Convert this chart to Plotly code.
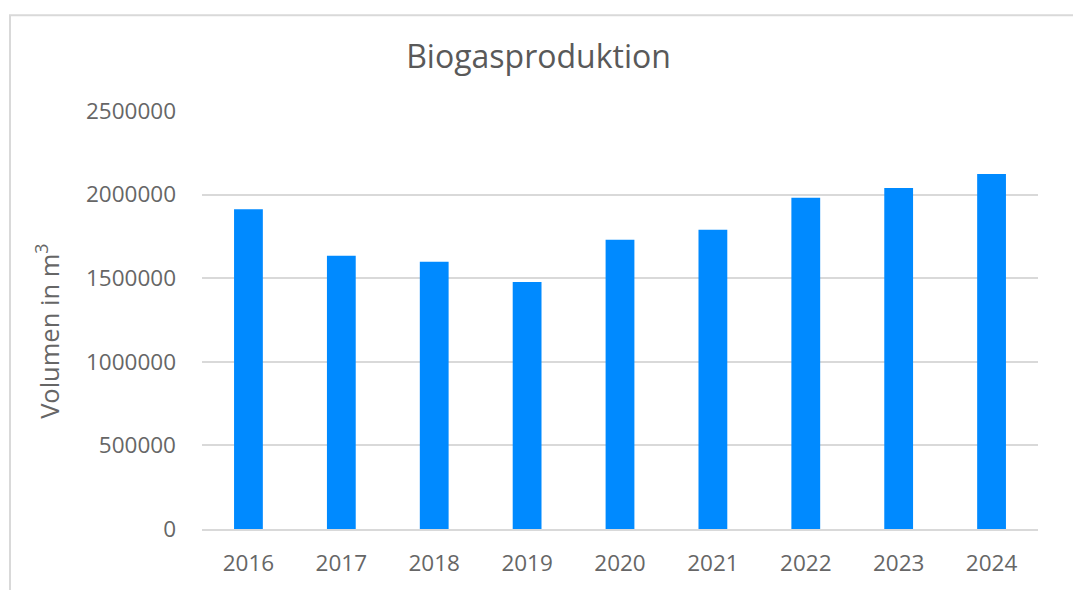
import plotly.graph_objects as go

years = ["2016", "2017", "2018", "2019", "2020", "2021", "2022", "2023", "2024"]
volumes = [1913000, 1635000, 1599000, 1477000, 1730000, 1790000, 1981000, 2040000, 2123000]
y_ticks = [0, 500000, 1000000, 1500000, 2000000, 2500000]

FONT = "Open Sans"
OFF = 8  # page body margin
W, H = 1081 - OFF, 590 - OFF
ML, MR, MT, MB = 202 - OFF, 43, 111 - OFF, 56
pw, ph = W - ML - MR, H - MT - MB
BOTTOM = OFF + H - MB  # pixel of y=0


def px_x(p):
    return (p - 202) / pw


def px_y(p):
    return (BOTTOM - p) / ph


fig = go.Figure(go.Bar(x=years, y=volumes, marker=dict(color="#008AFF", line=dict(width=0)), width=0.31))

fig.update_layout(
    width=W, height=H,
    margin=dict(l=ML, r=MR, t=MT, b=MB, pad=0),
    paper_bgcolor="white", plot_bgcolor="white",
    showlegend=False,
    font=dict(family=FONT, color="#595959"),
    title=dict(text="Biogasproduktion", x=(538.5 - OFF) / W, xanchor="center", y=1 - (57 - OFF) / H, yanchor="middle",
               font=dict(family=FONT, size=32, color="#595959")),
    xaxis=dict(showgrid=False, showline=True, linecolor="#D9D9D9", linewidth=2, ticks="",
               ticklabelstandoff=13,
               tickfont=dict(family=FONT, size=22.5, color="#666666")),
    yaxis=dict(range=[0, 2500000], tickvals=y_ticks, ticktext=[str(v) for v in y_ticks],
               showgrid=True, gridcolor="#D9D9D9", gridwidth=2, zeroline=False, showline=False,
               ticks="", ticklabelstandoff=25,
               tickfont=dict(family=FONT, size=22.5, color="#666666")),
    annotations=[dict(text="Volumen in m<sup>3</sup>", xref="paper", yref="paper",
                      x=px_x(48), y=px_y(334.5), xanchor="center", yanchor="middle",
                      textangle=-90, showarrow=False,
                      font=dict(family=FONT, size=25.5, color="#666666"))],
    shapes=[dict(type="rect", xref="paper", yref="paper",
                 x0=px_x(10), x1=px_x(1100),
                 y0=px_y(620), y1=px_y(14),
                 line=dict(color="#D9D9D9", width=2), fillcolor="rgba(0,0,0,0)", layer="below")],
)

fig.write_html("out.html")
